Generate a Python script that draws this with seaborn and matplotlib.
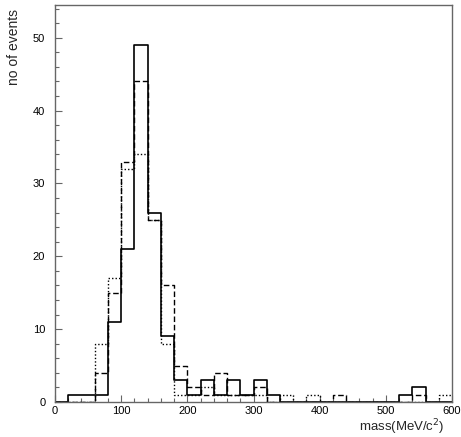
import matplotlib
matplotlib.use('Agg')
import matplotlib.pyplot as plt
from matplotlib.ticker import MultipleLocator
import seaborn as sns
import numpy as np
import pandas as pd

# histogram contents, 20 MeV bins from 0 to 600
bin_lo = list(range(0, 600, 20))
solid = [0, 1, 1, 1, 11, 21, 49, 26, 9, 3, 1, 3, 1, 3, 1, 3, 1, 0, 0, 0,
         0, 0, 0, 0, 0, 0, 1, 2, 0, 0]
dashed = [0, 0, 0, 4, 15, 33, 44, 25, 16, 5, 2, 1, 4, 1, 1, 2, 0, 0, 0, 0,
          0, 1, 0, 0, 0, 0, 0, 1, 0, 0]
dotted = [0, 0, 0, 8, 17, 32, 34, 25, 8, 1, 1, 2, 1, 1, 1, 1, 0, 1, 0, 1,
          0, 0, 0, 0, 0, 0, 0, 0, 0, 1]

sns.set_style('white')
plt.rcParams['font.family'] = ['Liberation Sans', 'DejaVu Sans']

df = pd.DataFrame({'mass': np.array(bin_lo) + 10,
                   'solid': solid, 'dashed': dashed, 'dotted': dotted})

fig = plt.figure(figsize=(4.61, 4.37), dpi=100)
ax = fig.add_axes([55 / 461, 35 / 437, 397 / 461, 397 / 437])

# draw each series as an outline histogram
styles = [('dotted', (0, (1, 1.5)), 1.0),
          ('dashed', (0, (4, 2)), 1.0),
          ('solid', '-', 1.2)]
for col, ls, lw in styles:
    sns.histplot(data=df, x='mass', weights=col, binwidth=20, binrange=(0, 600),
                 element='step', fill=False, color='black', linestyle=ls,
                 linewidth=lw, ax=ax)

ax.set_xlim(0, 600)
ax.set_ylim(0, 54.5)
ax.xaxis.set_major_locator(MultipleLocator(100))
ax.xaxis.set_minor_locator(MultipleLocator(20))
ax.yaxis.set_major_locator(MultipleLocator(10))
ax.yaxis.set_minor_locator(MultipleLocator(2))
ax.tick_params(which='both', direction='in', bottom=True, left=True,
               top=False, right=False,
               colors='#666666', labelcolor='black', labelsize=8)
ax.tick_params(which='major', length=5, width=0.8)
ax.tick_params(which='minor', length=3, width=0.8)
ax.tick_params(axis='y', pad=7)
ax.tick_params(axis='x', pad=3)

for sp in ax.spines.values():
    sp.set_color('#666666')
    sp.set_linewidth(1.0)

ax.set_xlabel(r'mass(MeV/c$^2$)', fontsize=9.5, loc='right')
ax.xaxis.set_label_coords(0.982, -0.038)
ax.set_ylabel('no of events', fontsize=10, loc='top')
ax.yaxis.set_label_coords(-0.085, 0.99)

fig.savefig('out.png', dpi=100)
